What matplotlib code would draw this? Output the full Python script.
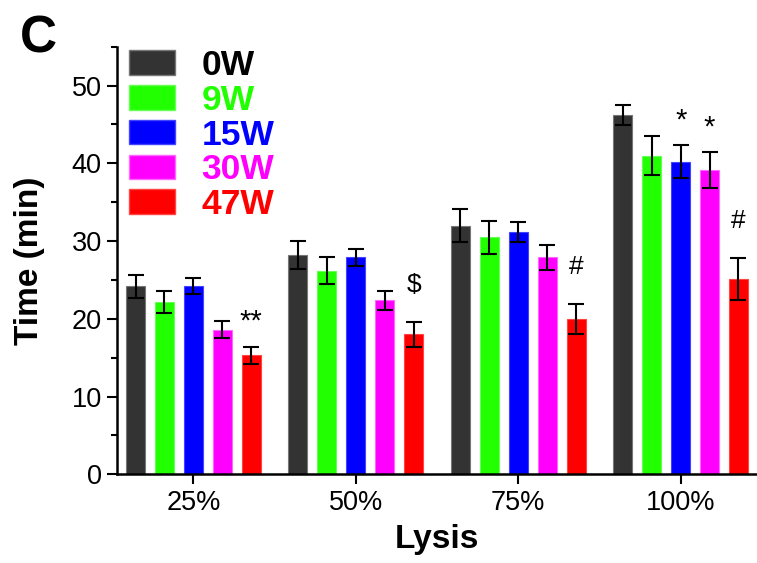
import numpy as np
import matplotlib.pyplot as plt
from matplotlib.patches import Patch
from matplotlib.ticker import MultipleLocator

plt.rcParams['font.family'] = ['Liberation Sans', 'DejaVu Sans']

groups = ['25%', '50%', '75%', '100%']
series = ['0W', '9W', '15W', '30W', '47W']
colors = ['#333333', '#22ff00', '#0000ff', '#ff00ff', '#ff0000']
edges = ['#777777', '#66ff55', '#4444ff', '#ff66ff', '#ff4444']

means = {
    '0W':  [24.2, 28.2, 32.0, 46.2],
    '9W':  [22.2, 26.2, 30.5, 41.0],
    '15W': [24.2, 27.9, 31.2, 40.2],
    '30W': [18.6, 22.4, 27.9, 39.1],
    '47W': [15.3, 18.0, 20.0, 25.1],
}
errors = {
    '0W':  [1.5, 1.8, 2.1, 1.3],
    '9W':  [1.4, 1.7, 2.1, 2.5],
    '15W': [1.0, 1.1, 1.3, 2.1],
    '30W': [1.1, 1.2, 1.6, 2.3],
    '47W': [1.1, 1.6, 1.9, 2.7],
}
# significance marks: (group index, series, symbol)
marks = [(0, '47W', '**'), (1, '47W', '$'), (2, '47W', '#'),
         (3, '15W', '*'), (3, '30W', '*'), (3, '47W', '#')]

fig = plt.figure(figsize=(7.57, 5.63), dpi=100)
ax = fig.add_axes([0.1546, 0.1575, 0.8454, 0.7595])

x = np.arange(len(groups))
pitch = 0.178
width = 0.117
offsets = (np.arange(len(series)) - 2) * pitch

for i, s in enumerate(series):
    ax.bar(x + offsets[i], means[s], width, color=colors[i], edgecolor=edges[i],
           linewidth=0.8, yerr=errors[s], capsize=5.5,
           error_kw=dict(elinewidth=1.5, capthick=1.5, ecolor='black'))

for g, s, sym in marks:
    i = series.index(s)
    top = means[s][g] + errors[s][g]
    if '*' in sym:
        # asterisks sit high in their box, so drop the box a little
        ax.text(x[g] + offsets[i], top + 3.2, sym, ha='center', va='center',
                fontsize=21)
    else:
        ax.text(x[g] + offsets[i], top + 4.8, sym, ha='center', va='center',
                fontsize=19)

ax.set_xlim(-0.47, 3.47)
ax.set_ylim(0, 55)
ax.set_xticks(x)
ax.set_xticklabels(groups)
ax.yaxis.set_major_locator(MultipleLocator(10))
ax.yaxis.set_minor_locator(MultipleLocator(5))
ax.tick_params(axis='both', which='major', labelsize=19.5, width=1.5, length=7,
               direction='out', pad=4)
ax.tick_params(axis='y', which='minor', width=1.5, length=4, direction='out')
for side in ['top', 'right']:
    ax.spines[side].set_visible(False)
for side in ['left', 'bottom']:
    ax.spines[side].set_linewidth(1.8)

ax.set_xlabel('Lysis', fontsize=24, fontweight='bold')
ax.set_ylabel('Time (min)', fontsize=24, fontweight='bold')
ax.xaxis.set_label_coords(0.5, -0.117)
ax.yaxis.set_label_coords(-0.112, 0.5)

handles = [Patch(facecolor=colors[i], edgecolor=edges[i], label=s)
           for i, s in enumerate(series)]
leg = ax.legend(handles=handles, loc='upper left',
                bbox_to_anchor=(0.1704, 0.913), bbox_transform=fig.transFigure,
                borderaxespad=0, borderpad=0, frameon=False,
                prop=dict(size=25.5, weight='bold'),
                handlelength=1.3, handleheight=0.68, labelspacing=0.05,
                handletextpad=0.75, labelcolor=['black'] + colors[1:])

fig.text(0.026, 0.975, 'C', fontsize=37, fontweight='bold', va='top', ha='left')

fig.savefig('out.png', dpi=100)
